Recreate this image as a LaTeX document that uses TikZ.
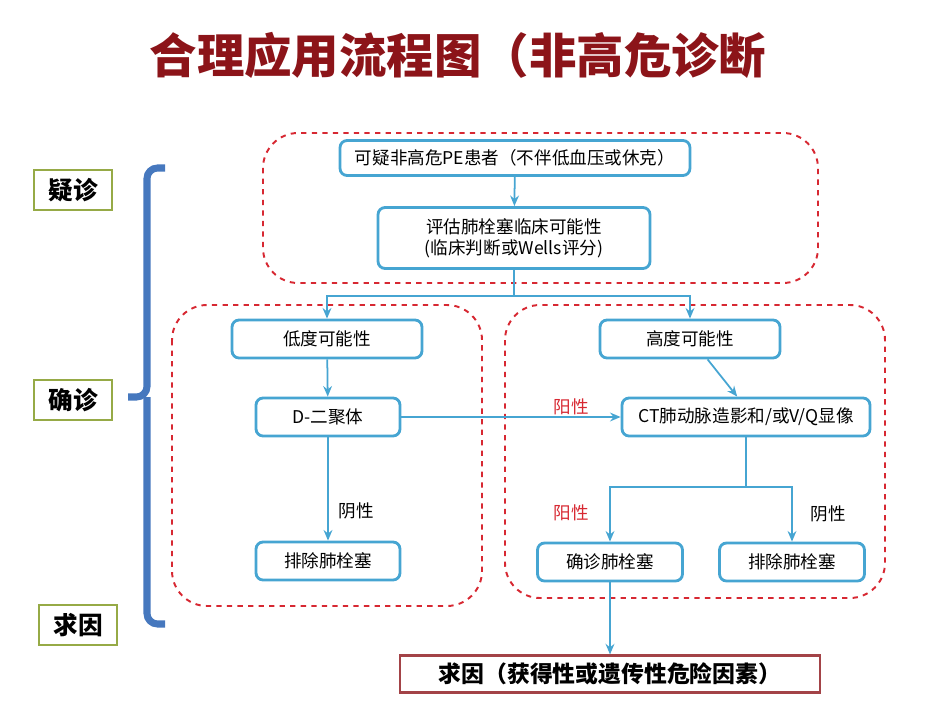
\documentclass[tikz,border=0pt]{standalone}
\usepackage{fontspec}
\setmainfont{Noto Sans CJK SC}
\usetikzlibrary{arrows.meta,positioning}
\definecolor{boxblue}{RGB}{70,165,210}
\definecolor{dashred}{RGB}{215,40,50}
\definecolor{titlered}{RGB}{140,20,25}
\definecolor{braceblue}{RGB}{70,120,190}
\definecolor{tagolive}{RGB}{150,170,70}
\tikzset{
	stepbox/.style={draw=boxblue, line width=1.6pt, rounded corners=4pt, fill=white, font=\fontsize{10}{12}\selectfont, align=center, inner sep=0pt},
	flow/.style={draw=boxblue, line width=1pt, -{Stealth[length=6pt,width=5pt]}},
	group/.style={draw=dashred, dashed, line width=1.1pt, rounded corners=20pt},
	tag/.style={draw=tagolive, line width=1.2pt, fill=white, font=\fontsize{14}{16}\selectfont\bfseries, minimum width=1.56cm, minimum height=0.8cm},
	res/.style={font=\fontsize{10}{12}\selectfont}
}
\begin{document}
\begin{tikzpicture}[x=0.02cm,y=-0.02cm]
	\useasboundingbox (0,0) rectangle (950,713);
	%Title
	\node[text=titlered, font=\fontsize{27}{30}\selectfont\bfseries] (title) at (458,55) {合理应用流程图（非高危诊断};
	
	%Dashed groups
	\draw[group] (263,133) rectangle (818,283);
	\draw[group] (172,305) rectangle (482,606);
	\draw[group] (505,305) rectangle (885,598);
	
	%Steps
	\node[stepbox, minimum width=7cm, minimum height=0.7cm] (susp) at (515,158) {可疑非高危PE患者（不伴低血压或休克）};
	\node[stepbox, minimum width=5.44cm, minimum height=1.22cm] (eval) at (514,238) {评估肺栓塞临床可能性\\(临床判断或Wells评分)};
	\node[stepbox, minimum width=3.8cm, minimum height=0.76cm] (low) at (327,339) {低度可能性};
	\node[stepbox, minimum width=2.88cm, minimum height=0.76cm] (dd) at (328,417) {D-二聚体};
	\node[stepbox, minimum width=2.88cm, minimum height=0.76cm] (excl1) at (328,561) {排除肺栓塞};
	\node[stepbox, minimum width=3.6cm, minimum height=0.76cm] (high) at (690,339) {高度可能性};
	\node[stepbox, minimum width=4.96cm, minimum height=0.76cm] (ct) at (746,417) {CT肺动脉造影和/或V/Q显像};
	\node[stepbox, minimum width=2.9cm, minimum height=0.76cm] (conf) at (610,562) {确诊肺栓塞};
	\node[stepbox, minimum width=2.9cm, minimum height=0.76cm] (excl2) at (792,562) {排除肺栓塞};
	\node[draw=titlered!80, line width=1.2pt, minimum width=8.4cm, minimum height=0.74cm, inner sep=0pt, font=\fontsize{13}{15}\selectfont\bfseries] (cause) at (610,674) {求因（获得性或遗传性危险因素）};
	
	%Connectors
	\coordinate (split) at (514,296);
	\coordinate (fork) at (746,487);
	\draw[flow] (susp) -- (eval);
	\draw[boxblue, line width=1pt] (eval) -- (split);
	\draw[flow] (split) -| (low.north);
	\draw[flow] (split) -| (high.north);
	\draw[flow] (low) -- (dd);
	\draw[flow] ([xshift=10]high.south) -- ([xshift=-5]ct.north);
	\draw[flow] (dd) -- (ct);
	\draw[flow] (dd) -- (excl1);
	\draw[boxblue, line width=1pt] (ct) -- (fork);
	\draw[flow] (fork) -| (conf.north);
	\draw[flow] (fork) -| (excl2.north);
	\draw[flow] (conf) -- (cause);
	
	%Results
	\node[res, text=dashred] (pos1) at (571,407) {阳性};
	\node[res] (neg1) at (356,511) {阴性};
	\node[res, text=dashred] (pos2) at (571,513) {阳性};
	\node[res] (neg2) at (828,514) {阴性};
	
	%Brace
	\draw[braceblue, line width=4pt, rounded corners=6pt] (165,168) -- (147,168) -- (147,397) -- (128,397);
	\draw[braceblue, line width=4pt, rounded corners=6pt] (165,624) -- (147,624) -- (147,397);
	
	%Stages
	\node[tag] (s1) at (73,190) {疑诊};
	\node[tag] (s2) at (73,400) {确诊};
	\node[tag] (s3) at (78,625) {求因};
\end{tikzpicture}
\end{document}
